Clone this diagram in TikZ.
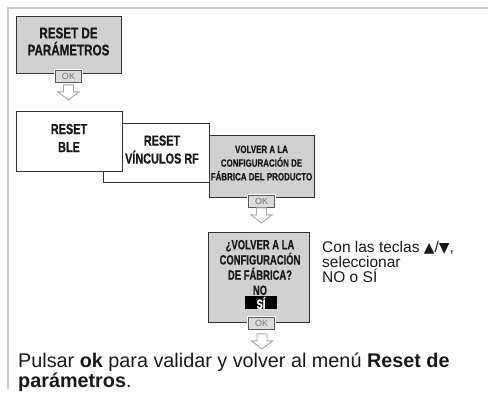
\documentclass[tikz,border=0pt]{standalone}
\usepackage{fontspec}
\setmainfont{Liberation Sans}
\newfontfamily\condfont[FakeStretch=0.75,FakeBold=0.6]{Liberation Sans}
\newfontfamily\narrowfont[FakeStretch=0.7,FakeBold=0.6]{Liberation Sans}
\newfontfamily\symfont{DejaVu Sans}
\usetikzlibrary{positioning}

\definecolor{menugray}{gray}{0.82}
\definecolor{okgray}{gray}{0.86}
\definecolor{rulegray}{gray}{0.8}

\tikzset{
  menubox/.style={draw=black!80, line width=0.9pt, inner sep=0pt, align=center,
    text depth=6pt, text=black!90},
  okbtn/.style={draw=black!65, fill=okgray, text=black!55, line width=0.6pt, inner sep=0pt,
    minimum width=26pt, minimum height=12pt, font=\fontsize{9}{9}\selectfont,
    preaction={draw=white, line width=3pt}},
  hollowarrow/.style={draw=black!35, fill=white, line width=0.9pt},
  pics/downarrow/.style={code={
    \draw[hollowarrow] (-5,-7.5) -- (5,-7.5) -- (5,-0.5) -- (10.5,-0.5) -- (0,7.5)
      -- (-10.5,-0.5) -- (-5,-0.5) -- cycle;}}
}

\begin{document}
\begin{tikzpicture}[x=1pt,y=-1pt]
  \useasboundingbox (0,0) rectangle (488,403);
  \draw[rulegray, line width=2pt] (488,8) -- (8,8) -- (8,389);

  \node[menubox, fill=menugray, minimum width=105pt, minimum height=57pt,
    font=\condfont\bfseries\fontsize{15.5}{17}\selectfont] (resetpar) at (68.5,44.5) {RESET DE\\PARÁMETROS};
  \node[okbtn] (ok1) at ([yshift=-3pt]resetpar.south) {OK};
  \pic at ([yshift=-19pt]resetpar.south) {downarrow};

  \node[menubox, fill=white, minimum width=106pt, minimum height=59pt] (resetrf) at (156,152.5) {};
  \node[font=\condfont\bfseries\fontsize{14.5}{18}\selectfont, text=black!90, align=center,
    inner sep=0pt, text depth=6pt] (rftext) at (162,152.5) {RESET\\VÍNCULOS RF};
  \node[menubox, fill=white, minimum width=106pt, minimum height=60pt,
    font=\condfont\bfseries\fontsize{14.5}{18}\selectfont] (resetble) at (69,141) {RESET\\BLE};
  \node[menubox, fill=menugray, minimum width=105pt, minimum height=62pt,
    font=\condfont\bfseries\fontsize{10.6}{13.7}\selectfont] (factory) at (261.5,166) {VOLVER A LA\\CONFIGURACIÓN DE\\FÁBRICA DEL PRODUCTO};
  \node[okbtn] (ok2) at ([yshift=-4pt]factory.south) {OK};
  \pic at ([yshift=-18pt]factory.south) {downarrow};

  \node[menubox, fill=menugray, minimum width=101pt, minimum height=90pt] (confirm) at (258.5,277) {};
  \node[font=\narrowfont\bfseries\fontsize{13.5}{15.2}\selectfont, text=black!90, align=center,
    inner sep=0pt] (question) at (260,267.5) {¿VOLVER A LA\\CONFIGURACIÓN\\DE FÁBRICA?\\NO};
  \node[fill=black, text=white, minimum width=32pt, minimum height=13pt, inner sep=0pt,
    font=\narrowfont\bfseries\fontsize{13.5}{13.5}\selectfont] (yes) at (261,303) {SÍ};
  \node[okbtn] (ok3) at ([xshift=3pt,yshift=-1pt]confirm.south) {OK};
  \pic at ([xshift=3.5pt,yshift=-19pt]confirm.south) {downarrow};

  \node[anchor=north west, align=left, inner sep=0pt, text=black!90,
    font=\fontsize{15.5}{15}\selectfont] (hint) at (322,241) {Con las teclas {\symfont\fontsize{14}{14}\selectfont▲}/{\symfont\fontsize{14}{14}\selectfont▼},\\seleccionar\\NO o SÍ};

  \node[anchor=north west, align=left, inner sep=0pt, text=black!90,
    font=\fontsize{19.8}{18}\selectfont] (note) at (18,353) {Pulsar \textbf{ok} para validar y volver al menú \textbf{Reset de}\\\textbf{parámetros}.};
\end{tikzpicture}
\end{document}
